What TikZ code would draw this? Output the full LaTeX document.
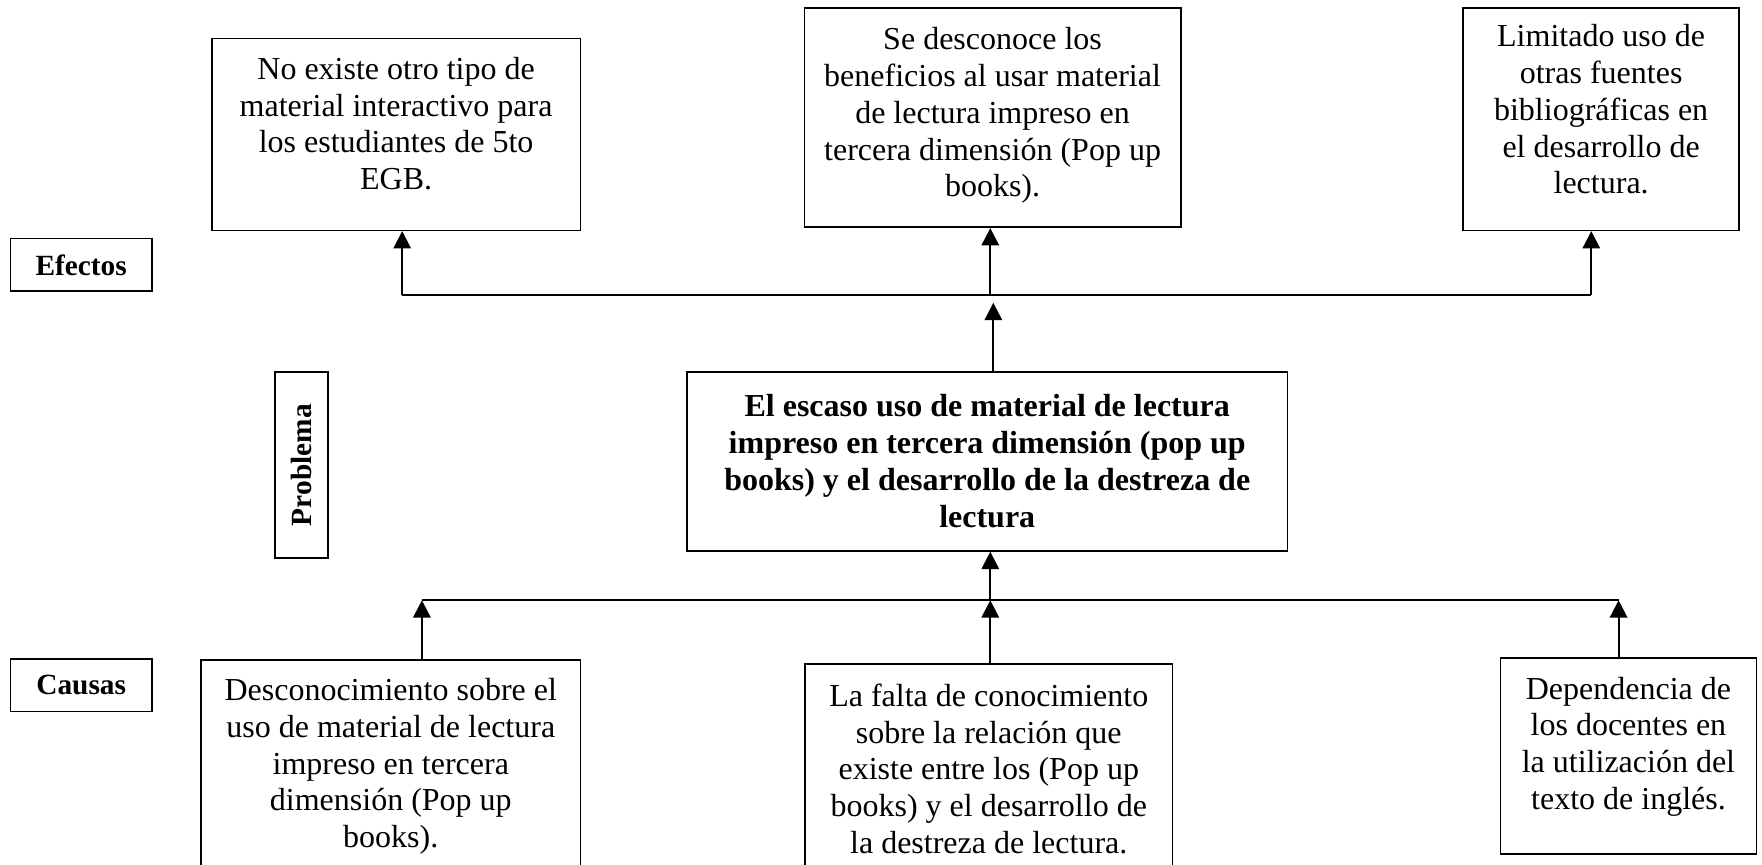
\documentclass[tikz,border=0pt]{standalone}
\usepackage{fontspec}
\setmainfont{Liberation Serif}
\usetikzlibrary{arrows.meta}

\begin{document}
\begin{tikzpicture}[>={Triangle[width=6.5pt,length=6.5pt]},
  caja/.style={draw,line width=0.6pt,align=center,inner sep=0pt,font=\fontsize{12}{13.8}\selectfont},
  etiqueta/.style={draw,line width=0.6pt,inner sep=0pt,font=\fontsize{11}{13}\selectfont\bfseries,minimum width=1.86cm,minimum height=0.69cm},
  flecha/.style={->,line width=0.8pt},
  linea/.style={line width=0.6pt}]
  \useasboundingbox (0,0) rectangle (23.22,-11.39);
  \clip (0,0) rectangle (23.22,-11.39);
  % efectos
  \node(eA)[caja,text depth=8.25pt,minimum width=4.86cm,minimum height=2.53cm] at (5.22,-1.77) {No existe otro tipo de\\material interactivo para\\los estudiantes de 5to\\EGB.};
  \node(eB)[caja,text depth=4.1pt,minimum width=4.96cm,minimum height=2.89cm] at (13.08,-1.55) {Se desconoce los\\beneficios al usar material\\de lectura impreso en\\tercera dimensión (Pop up\\books).};
  \node(eC)[caja,text depth=7.5pt,minimum width=3.64cm,minimum height=2.93cm] at (21.10,-1.57) {Limitado uso de\\otras fuentes\\bibliográficas en\\el desarrollo de\\lectura.};
  \node(lEf)[etiqueta] at (1.07,-3.49) {Efectos};
  % problema
  \node(lPr)[etiqueta,rotate=90,minimum width=2.45cm,minimum height=0.70cm] at (3.97,-6.13) {Problema};
  \node(prob)[caja,font=\fontsize{12}{13.9}\selectfont\bfseries,minimum width=7.91cm,minimum height=2.36cm] at (13.01,-6.08) {El escaso uso de material de lectura\\impreso en tercera dimensión (pop up\\books) y el desarrollo de la destreza de\\lectura};
  % causas
  \node(lCa)[etiqueta] at (1.07,-9.03) {Causas};
  \node(cA)[caja,text depth=6pt,minimum width=5.00cm,minimum height=2.93cm] at (5.15,-10.16) {Desconocimiento sobre el\\uso de material de lectura\\impreso en tercera\\dimensión (Pop up\\books).};
  \node(cB)[caja,text depth=4pt,minimum width=4.84cm,minimum height=2.90cm] at (13.03,-10.20) {La falta de conocimiento\\sobre la relación que\\existe entre los (Pop up\\books) y el desarrollo de\\la destreza de lectura.};
  \node(cC)[caja,text depth=9.4pt,minimum width=3.37cm,minimum height=2.58cm] at (21.46,-9.96) {Dependencia de\\los docentes en\\la utilización del\\texto de inglés.};
  % lineas de union
  \coordinate (tL) at (5.30,-3.89);
  \coordinate (tM) at (13.05,-3.89);
  \coordinate (tR) at (20.97,-3.89);
  \coordinate (pU) at (13.09,-3.99);
  \coordinate (bL) at (5.56,-7.91);
  \coordinate (bM) at (13.05,-7.91);
  \coordinate (bR) at (21.33,-7.91);
  \draw[linea] (tL) -- (tR);
  \draw[flecha] (tL) -- (tL |- eA.south);
  \draw[flecha] (tM) -- (tM |- eB.south);
  \draw[flecha] (tR) -- (tR |- eC.south);
  \draw[flecha] (prob.north -| pU) -- (pU);
  \draw[linea] (bL) -- (bR);
  \draw[flecha] (bM) -- (bM |- prob.south);
  \draw[flecha] (cA.north -| bL) -- (bL);
  \draw[flecha] (cB.north -| bM) -- (bM);
  \draw[flecha] (cC.north -| bR) -- (bR);
\end{tikzpicture}
\end{document}
